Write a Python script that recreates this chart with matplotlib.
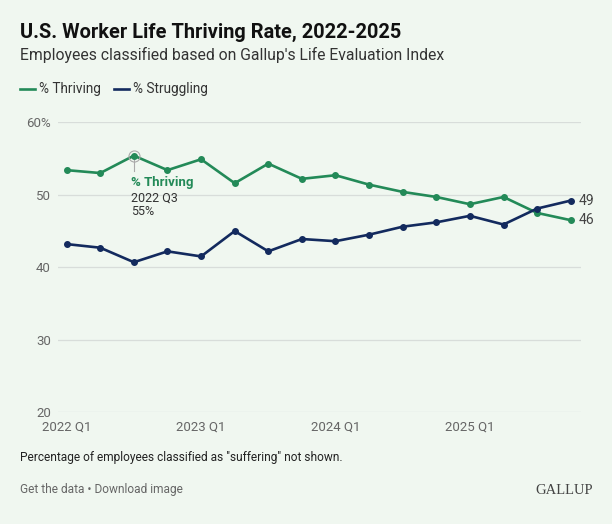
import numpy as np
import matplotlib
matplotlib.use('Agg')
import matplotlib.pyplot as plt

plt.rcParams['font.family'] = ['Roboto', 'DejaVu Sans']

quarters = ['2022 Q1', '2022 Q2', '2022 Q3', '2022 Q4',
            '2023 Q1', '2023 Q2', '2023 Q3', '2023 Q4',
            '2024 Q1', '2024 Q2', '2024 Q3', '2024 Q4',
            '2025 Q1', '2025 Q2', '2025 Q3', '2025 Q4']
thriving = [53.4, 53.0, 55.4, 53.4, 54.9, 51.6, 54.3, 52.2,
            52.7, 51.4, 50.4, 49.7, 48.7, 49.7, 47.5, 46.5]
struggling = [43.2, 42.7, 40.7, 42.2, 41.5, 45.0, 42.2, 43.9,
              43.6, 44.5, 45.6, 46.2, 47.1, 45.9, 48.1, 49.2]
yticks = [20, 30, 40, 50, 60]
ytick_labels = ['20', '30', '40', '50', '60%']
xtick_idx = [0, 4, 8, 12]

GREEN = '#238a58'
NAVY = '#132a5e'
BG = '#f0f7f0'

fig = plt.figure(figsize=(6.12, 5.24), dpi=100, facecolor=BG)
ax = fig.add_axes([0.0944, 0.2132, 0.8546, 0.5534], facecolor=BG)

x = np.arange(len(quarters))
ax.plot(x, thriving, color=GREEN, lw=1.9, marker='o', ms=4, zorder=3)
ax.plot(x, struggling, color=NAVY, lw=1.9, marker='o', ms=4, zorder=3)

ax.set_xlim(-0.265, 15.3)
ax.set_ylim(20, 60)
ax.set_yticks(yticks)
ax.set_yticklabels(ytick_labels)
ax.set_xticks(xtick_idx)
ax.set_xticklabels([quarters[i] for i in xtick_idx])
ax.tick_params(axis='both', length=0, colors='#666666', labelsize=9.5)
ax.tick_params(axis='y', pad=5)
ax.tick_params(axis='x', pad=6)
ax.grid(axis='y', color='#d8ddda', lw=0.9)
ax.set_axisbelow(True)
for s in ax.spines.values():
    s.set_visible(False)

# end labels
ax.annotate(f'{struggling[-1]:.0f}', (x[-1], struggling[-1]), xytext=(6, 0),
            textcoords='offset points', va='center', fontsize=10, color='#444444')
ax.annotate(f'{thriving[-1]:.0f}', (x[-1], thriving[-1]), xytext=(6, 0),
            textcoords='offset points', va='center', fontsize=10, color='#444444')

# highlighted point
hi = 2
ax.plot(x[hi], thriving[hi], marker='o', ms=8, mfc='none', mec='#aaaaaa', mew=0.8, zorder=4)
ax.plot([x[hi], x[hi]], [thriving[hi] - 0.6, thriving[hi] - 2.1], color='#aaaaaa', lw=0.8)
ax.annotate('% Thriving', (x[hi], thriving[hi]), xytext=(-2, -19), textcoords='offset points',
            fontsize=9.5, fontweight='bold', color=GREEN, va='center')
ax.annotate(quarters[hi], (x[hi], thriving[hi]), xytext=(-2, -30.5), textcoords='offset points',
            fontsize=9, color='#333333', va='center')
ax.annotate(f'{thriving[hi]:.0f}%', (x[hi], thriving[hi]), xytext=(-2, -40), textcoords='offset points',
            fontsize=9, color='#333333', va='center')

fig.text(20/612, 1 - 32/524, 'U.S. Worker Life Thriving Rate, 2022-2025', fontsize=14.4,
         fontweight='bold', color='#111111', va='center')
fig.text(20/612, 1 - 55/524, "Employees classified based on Gallup's Life Evaluation Index",
         fontsize=11.3, color='#333333', va='center')

# legend
fig.lines.append(plt.Line2D([20/612, 35/612], [1 - 89/524] * 2, color=GREEN, lw=1.9,
                            transform=fig.transFigure))
fig.text(39/612, 1 - 89/524, '% Thriving', fontsize=9.8, color='#333333', va='center')
fig.lines.append(plt.Line2D([114/612, 129/612], [1 - 89/524] * 2, color=NAVY, lw=1.9,
                            transform=fig.transFigure))
fig.text(133/612, 1 - 89/524, '% Struggling', fontsize=9.8, color='#333333', va='center')

fig.text(20/612, 1 - 457/524, 'Percentage of employees classified as "suffering" not shown.',
         fontsize=8.6, color='#222222', va='center')
fig.text(20/612, 1 - 490/524, 'Get the data \u2022 Download image',
         fontsize=8.6, color='#666666', va='center')
fig.text(593/612, 1 - 490/524, 'GALLUP', fontsize=10.5, family='Liberation Serif',
         color='#444444', va='center', ha='right')

fig.savefig('out.png', dpi=100, facecolor=BG)
